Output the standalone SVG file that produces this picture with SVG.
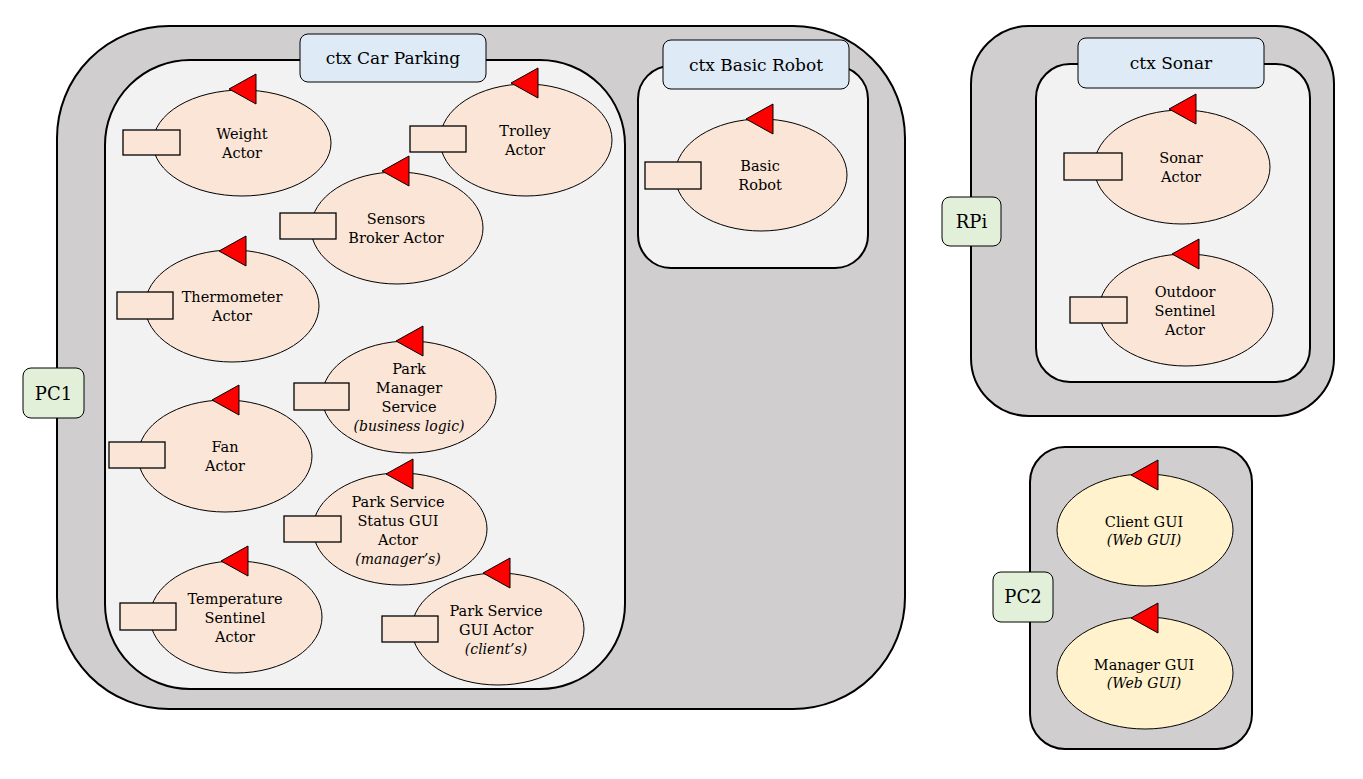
<svg xmlns="http://www.w3.org/2000/svg" width="1363" height="779" viewBox="0 0 1363 779">
<style>
  .host { fill: #d0cece; stroke: #000; stroke-width: 2; }
  .ctx { fill: #f2f2f2; stroke: #000; stroke-width: 2; }
  .ctxlabel { fill: #deebf7; stroke: #000; stroke-width: 1; }
  .hostlabel { fill: #e2efd9; stroke: #000; stroke-width: 1; }
  .actor { fill: #fbe5d6; stroke: #000; stroke-width: 1; }
  .gui { fill: #fff2cc; stroke: #000; stroke-width: 1; }
  .port { fill: #fbe5d6; stroke: #000; stroke-width: 1.3; }
  .flag { fill: #ff0000; stroke: #000; stroke-width: 1; }
  text { font-family: "DejaVu Serif", "Liberation Serif", serif; fill: #000; text-anchor: middle; }
  .t { font-size: 14.5px; }
  .ti { font-size: 14px; font-style: italic; }
  .h { font-size: 17px; }
  .hl { font-size: 18px; }
</style>
<rect width="1363" height="779" fill="#ffffff"/>

<g id="pc1">
  <rect class="host" x="57" y="26" width="848" height="683" rx="112" ry="112"/>
  <rect class="hostlabel" x="23" y="368" width="61" height="50" rx="8" ry="8"/>
  <text class="hl" x="53.5" y="400">PC1</text>
</g>
<g id="ctx-car-parking">
  <rect class="ctx" x="105" y="60" width="520" height="629" rx="85" ry="85"/>
  <rect class="ctxlabel" x="300" y="34" width="186" height="48" rx="8" ry="8"/>
  <text class="h" x="393" y="64">ctx Car Parking</text>
</g>
<g id="ctx-basic-robot">
  <rect class="ctx" x="638" y="66" width="230" height="202" rx="33" ry="33"/>
  <rect class="ctxlabel" x="663" y="40" width="186" height="49" rx="8" ry="8"/>
  <text class="h" x="756" y="71">ctx Basic Robot</text>
</g>
<g id="rpi">
  <rect class="host" x="971" y="26" width="363" height="390" rx="58" ry="58"/>
  <rect class="hostlabel" x="942" y="197" width="59" height="49" rx="8" ry="8"/>
  <text class="hl" x="971.5" y="228">RPi</text>
</g>
<g id="ctx-sonar">
  <rect class="ctx" x="1036" y="64" width="274" height="318" rx="34" ry="34"/>
  <rect class="ctxlabel" x="1078" y="38" width="186" height="50" rx="8" ry="8"/>
  <text class="h" x="1171" y="69">ctx Sonar</text>
</g>
<g id="pc2">
  <rect class="host" x="1030" y="447" width="222" height="302" rx="35" ry="35"/>
  <rect class="hostlabel" x="993" y="572" width="60" height="50" rx="8" ry="8"/>
  <text class="hl" x="1023" y="603">PC2</text>
</g>

<g id="connectors"></g>

<g id="weight-actor">
  <ellipse class="actor" cx="242" cy="143" rx="89" ry="53"/>
  <rect class="port" x="123" y="130" width="57" height="25"/>
  <polygon class="flag" points="229,89 256,74 256,104"/>
  <text class="t" x="242" y="139">Weight</text>
  <text class="t" x="242" y="158">Actor</text>
</g>
<g id="trolley-actor">
  <ellipse class="actor" cx="526" cy="140" rx="86" ry="56"/>
  <rect class="port" x="410" y="126" width="56" height="26"/>
  <polygon class="flag" points="511,83 538,68 538,98"/>
  <text class="t" x="525" y="136">Trolley</text>
  <text class="t" x="525" y="155">Actor</text>
</g>
<g id="sensors-broker-actor">
  <ellipse class="actor" cx="397" cy="228" rx="86" ry="56"/>
  <rect class="port" x="280" y="213" width="56" height="26"/>
  <polygon class="flag" points="382,171 409,156 409,186"/>
  <text class="t" x="396" y="224">Sensors</text>
  <text class="t" x="396" y="243">Broker Actor</text>
</g>
<g id="thermometer-actor">
  <ellipse class="actor" cx="232" cy="306" rx="87" ry="56"/>
  <rect class="port" x="117" y="292" width="56" height="27"/>
  <polygon class="flag" points="219,251 246,236 246,266"/>
  <text class="t" x="232" y="302">Thermometer</text>
  <text class="t" x="232" y="321">Actor</text>
</g>
<g id="park-manager-service">
  <ellipse class="actor" cx="409" cy="397" rx="87" ry="56"/>
  <rect class="port" x="294" y="383" width="55" height="27"/>
  <polygon class="flag" points="396,341 423,326 423,356"/>
  <text class="t" x="409" y="374">Park</text>
  <text class="t" x="409" y="393">Manager</text>
  <text class="t" x="409" y="412">Service</text>
  <text class="ti" x="409" y="431">(business logic)</text>
</g>
<g id="fan-actor">
  <ellipse class="actor" cx="225" cy="456" rx="87" ry="56"/>
  <rect class="port" x="109" y="442" width="56" height="26"/>
  <polygon class="flag" points="212,400 239,385 239,415"/>
  <text class="t" x="225" y="452">Fan</text>
  <text class="t" x="225" y="471">Actor</text>
</g>
<g id="park-service-status-gui-actor">
  <ellipse class="actor" cx="400" cy="529" rx="87" ry="56"/>
  <rect class="port" x="284" y="516" width="57" height="26"/>
  <polygon class="flag" points="386,474 413,459 413,489"/>
  <text class="t" x="398" y="507">Park Service</text>
  <text class="t" x="398" y="526">Status GUI</text>
  <text class="t" x="398" y="545">Actor</text>
  <text class="ti" x="398" y="564">(manager’s)</text>
</g>
<g id="temperature-sentinel-actor">
  <ellipse class="actor" cx="236" cy="617" rx="86" ry="56"/>
  <rect class="port" x="120" y="603" width="56" height="27"/>
  <polygon class="flag" points="221,561 248,546 248,576"/>
  <text class="t" x="235" y="604">Temperature</text>
  <text class="t" x="235" y="623">Sentinel</text>
  <text class="t" x="235" y="642">Actor</text>
</g>
<g id="park-service-gui-actor">
  <ellipse class="actor" cx="498" cy="629" rx="86" ry="56"/>
  <rect class="port" x="382" y="616" width="56" height="26"/>
  <polygon class="flag" points="483,573 510,558 510,588"/>
  <text class="t" x="496" y="616">Park Service</text>
  <text class="t" x="496" y="635">GUI Actor</text>
  <text class="ti" x="496" y="654">(client’s)</text>
</g>
<g id="basic-robot">
  <ellipse class="actor" cx="761" cy="175" rx="86" ry="56"/>
  <rect class="port" x="645" y="162" width="56" height="27"/>
  <polygon class="flag" points="746,119 773,104 773,134"/>
  <text class="t" x="760" y="171">Basic</text>
  <text class="t" x="760" y="190">Robot</text>
</g>
<g id="sonar-actor">
  <ellipse class="actor" cx="1182" cy="167" rx="88" ry="57"/>
  <rect class="port" x="1064" y="153" width="58" height="27"/>
  <polygon class="flag" points="1169,109 1196,94 1196,124"/>
  <text class="t" x="1181" y="163">Sonar</text>
  <text class="t" x="1181" y="182">Actor</text>
</g>
<g id="outdoor-sentinel-actor">
  <ellipse class="actor" cx="1186" cy="310" rx="87" ry="56"/>
  <rect class="port" x="1070" y="297" width="57" height="26"/>
  <polygon class="flag" points="1172,254 1199,239 1199,269"/>
  <text class="t" x="1185" y="297">Outdoor</text>
  <text class="t" x="1185" y="316">Sentinel</text>
  <text class="t" x="1185" y="335">Actor</text>
</g>
<g id="client-gui">
  <ellipse class="gui" cx="1145" cy="530" rx="88" ry="56"/>
  <polygon class="flag" points="1131,475 1158,460 1158,490"/>
  <text class="t" x="1144" y="527">Client GUI</text>
  <text class="ti" x="1144" y="545">(Web GUI)</text>
</g>
<g id="manager-gui">
  <ellipse class="gui" cx="1145" cy="673" rx="88" ry="56"/>
  <polygon class="flag" points="1131,618 1158,603 1158,633"/>
  <text class="t" x="1144" y="670">Manager GUI</text>
  <text class="ti" x="1144" y="688">(Web GUI)</text>
</g>
</svg>
